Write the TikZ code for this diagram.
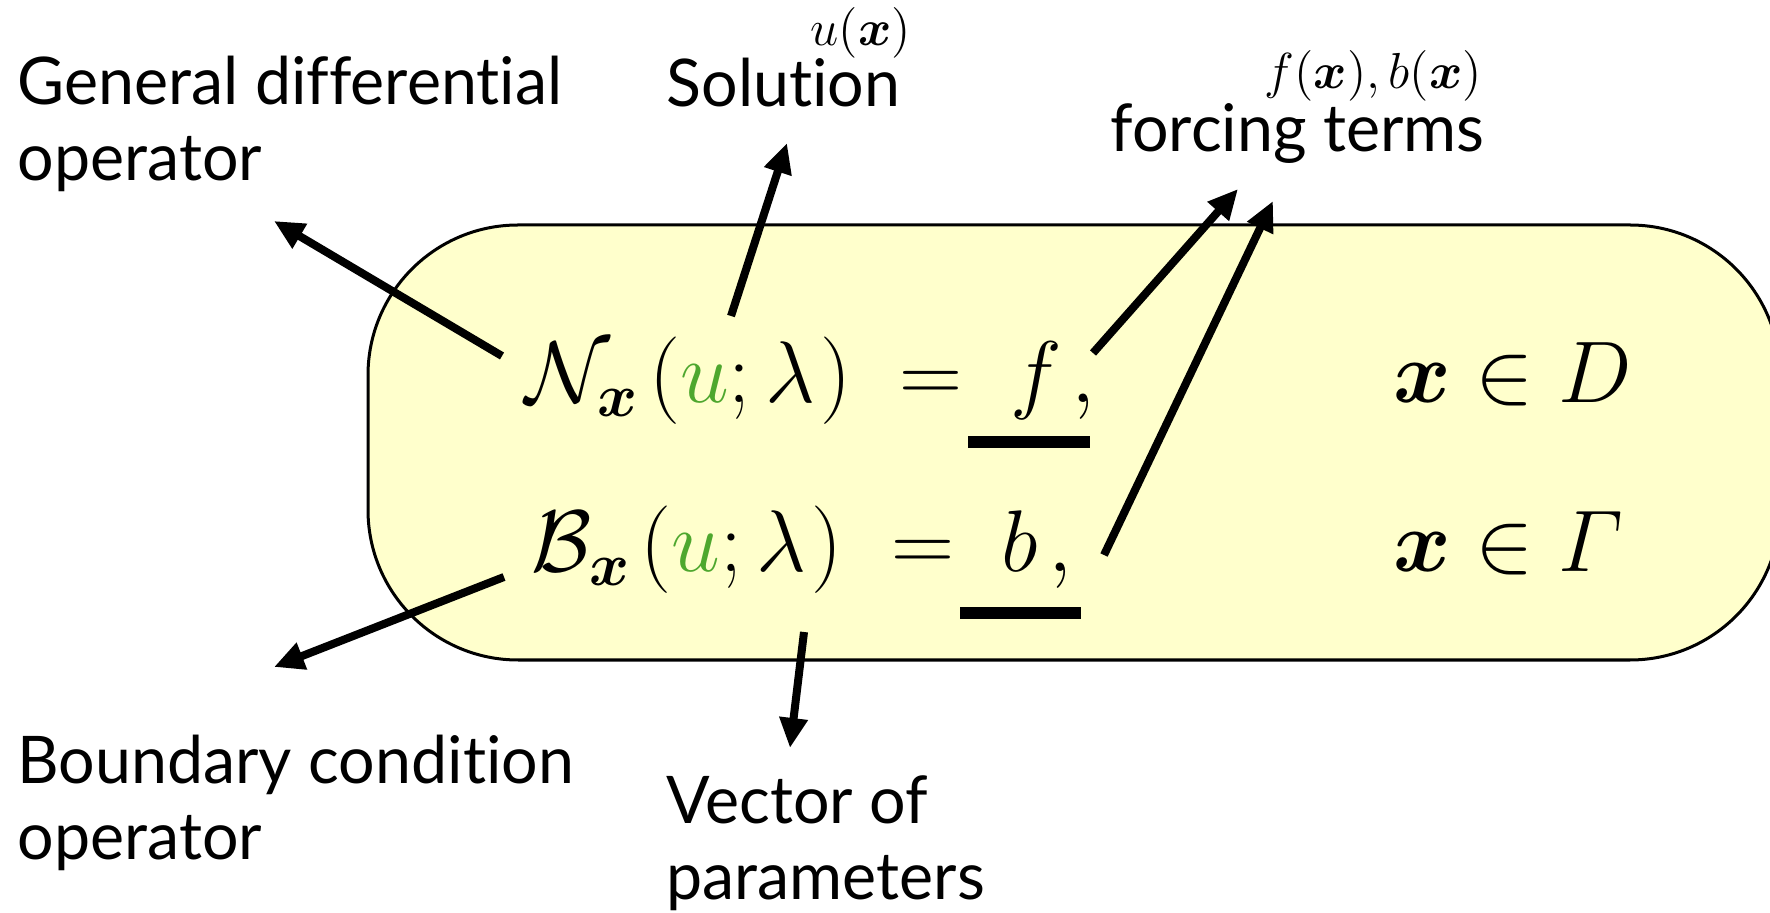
\documentclass[tikz,border=0pt]{standalone}
\usepackage[no-math]{fontspec}
\setmainfont[Ligatures=NoCommon,FakeStretch=0.98]{Lato}
\usepackage{amsmath,bm}
\usetikzlibrary{arrows.meta}
\definecolor{boxfill}{RGB}{255,255,204}
\definecolor{ugreen}{RGB}{78,167,46}
\begin{document}
\begin{tikzpicture}[x=0.01cm,y=-0.01cm,
  lab/.style={font=\fontsize{18.7}{21.6}\selectfont, inner sep=0, align=left},
  eq/.style={font=\fontsize{26.5}{30}\selectfont, inner sep=0},
  small/.style={font=\fontsize{14}{16}\selectfont, inner sep=0},
  arr/.style={line width=0.08cm, -{Triangle[length=0.3cm,width=0.27cm]}},
  uline/.style={fill=black}]
\useasboundingbox (0,0) rectangle (1770,913);
\clip (0,0) rectangle (1770,913);
\draw[fill=boxfill, line width=0.03cm, rounded corners=1.5cm] (368,225) rectangle (1780,660);

\node[eq, anchor=base west] (eqN) at (525,403) {$\mathcal{N}_{\bm{x}}\mkern2mu(\textcolor{ugreen}{u};\lambda\mkern1mu)\; = \ f\mkern2mu,$};
\node[eq, anchor=base west] (eqB) at (531,572) {$\mathcal{B}_{\bm{x}}\mkern2mu(\textcolor{ugreen}{u};\lambda\mkern1mu)\; = \ b\mkern2mu,$};
\node[eq, anchor=base west] (domD) at (1393,403) {$\bm{x} \in D$};
\node[eq, anchor=base west] (domG) at (1393,572) {$\bm{x} \in \varGamma$};
\fill[uline] (968,436) rectangle (1090,448);
\fill[uline] (960,607) rectangle (1081,619);

\node[lab, anchor=north west] (gen) at (17,55) {General differential\\operator};
\node[lab, anchor=base west] (sol) at (666,107) {Solution};
\node[small, anchor=base west] (ux) at (810,46) {$u(\bm{x})$};
\node[small, anchor=base west] (fb) at (1264,89) {$f(\bm{x}), b(\bm{x})$};
\node[lab, anchor=base west] (forc) at (1110,152) {forcing terms};
\node[lab, anchor=north west] (bnd) at (17,734) {Boundary condition\\operator};
\node[lab, anchor=north west] (vec) at (666,775) {Vector of\\parameters};

\coordinate (s1) at (502,356); \coordinate (t1) at (274,221);
\coordinate (s2) at (504,577); \coordinate (t2) at (274,667);
\coordinate (s3) at (731,316); \coordinate (t3) at (787,143);
\coordinate (s4) at (1093,353); \coordinate (t4) at (1238,189);
\coordinate (s5) at (1104,555); \coordinate (t5) at (1273,201);
\coordinate (s6) at (804,632); \coordinate (t6) at (790,748);
\draw[arr] (s1) -- (t1);
\draw[arr] (s2) -- (t2);
\draw[arr] (s3) -- (t3);
\draw[arr] (s4) -- (t4);
\draw[arr] (s5) -- (t5);
\draw[arr] (s6) -- (t6);
\end{tikzpicture}
\end{document}
